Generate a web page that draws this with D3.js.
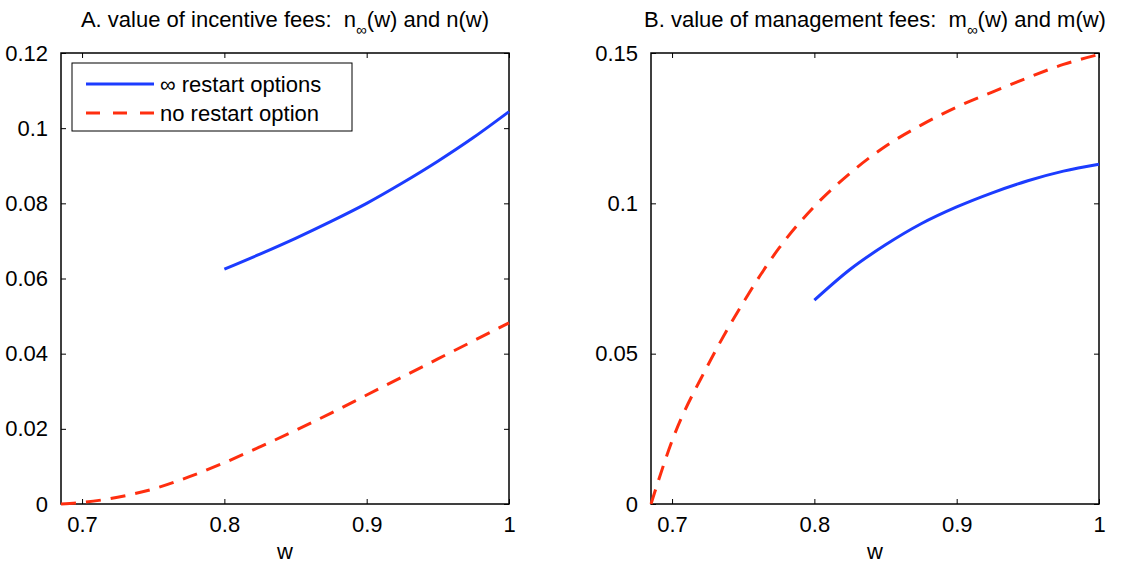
<!DOCTYPE html>
<html>
<head>
<meta charset="utf-8">
<script src="https://cdn.jsdelivr.net/npm/d3@7"></script>
<style>
  body { margin: 0; background: #fff; }
  text { font-family: "Liberation Sans", Arial, sans-serif; fill: #000; }
</style>
</head>
<body>
<div id="chart"></div>
<script>
// data
var wMin = 0.6852;
var xTicks = [0.7, 0.8, 0.9, 1];

var wRed = [0.6852, 0.7, 0.725, 0.75, 0.775, 0.8, 0.825, 0.85, 0.875, 0.9, 0.925, 0.95, 0.975, 1.0];
var wBlue = [0.8, 0.825, 0.85, 0.875, 0.9, 0.925, 0.95, 0.975, 1.0];

// panel A: incentive fees
var nNoRestart = [0, 0.0004, 0.0018, 0.0040, 0.0072, 0.0110, 0.0152, 0.0196, 0.0242, 0.0290, 0.0338, 0.0386, 0.0434, 0.0482];
var nInf = [0.0625, 0.0665, 0.0707, 0.0752, 0.0800, 0.0854, 0.0912, 0.0975, 0.1044];
var yTicksA = [0, 0.02, 0.04, 0.06, 0.08, 0.1, 0.12];

// panel B: management fees
var mNoRestart = [0, 0.021, 0.046, 0.067, 0.085, 0.099, 0.110, 0.119, 0.126, 0.132, 0.137, 0.1418, 0.1462, 0.1495];
var mInf = [0.0678, 0.0780, 0.0862, 0.0932, 0.0988, 0.1035, 0.1075, 0.1107, 0.1130];
var yTicksB = [0, 0.05, 0.1, 0.15];

var legendLabels = ["\u221e restart options", "no restart option"];

var blue = "#1c3cff", red = "#ff2e0f";
var fs = "22px";

var svg = d3.select("#chart").append("svg")
  .attr("width", 1124)
  .attr("height", 567);

function panel(left, yMax, yTicks, redVals, blueVals, titleParts, showLegend) {
  var top = 53, width = 448, height = 451;
  var g = svg.append("g").attr("transform", "translate(" + left + "," + top + ")");
  var x = d3.scaleLinear().domain([wMin, 1]).range([0, width]);
  var y = d3.scaleLinear().domain([0, yMax]).range([height, 0]);

  // ticks on all four sides, pointing in
  g.append("g").attr("transform", "translate(0," + height + ")")
    .call(d3.axisBottom(x).tickValues(xTicks).tickSizeInner(-5).tickSizeOuter(0).tickPadding(12)
      .tickFormat(function(d) { return d === 1 ? "1" : d3.format(".1f")(d); }));
  g.append("g")
    .call(d3.axisTop(x).tickValues(xTicks).tickSizeInner(-5).tickSizeOuter(0).tickFormat(""));
  g.append("g")
    .call(d3.axisLeft(y).tickValues(yTicks).tickSizeInner(-5).tickSizeOuter(0).tickPadding(13)
      .tickFormat(function(d) { return d === 0 ? "0" : String(d); }));
  g.append("g").attr("transform", "translate(" + width + ",0)")
    .call(d3.axisRight(y).tickValues(yTicks).tickSizeInner(-5).tickSizeOuter(0).tickFormat(""));
  g.selectAll(".domain").remove();
  g.selectAll(".tick line").attr("stroke", "#000").attr("stroke-width", 1);
  g.selectAll(".tick text").style("font-size", fs);

  g.append("rect")
    .attr("width", width).attr("height", height)
    .attr("fill", "none").attr("stroke", "#000").attr("stroke-width", 1.5);

  var line = d3.line().curve(d3.curveMonotoneX)
    .x(function(d) { return x(d[0]); })
    .y(function(d) { return y(d[1]); });

  g.append("path")
    .datum(d3.zip(wRed, redVals))
    .attr("d", line)
    .attr("fill", "none").attr("stroke", red).attr("stroke-width", 3)
    .attr("stroke-dasharray", "15,10");

  g.append("path")
    .datum(d3.zip(wBlue, blueVals))
    .attr("d", line)
    .attr("fill", "none").attr("stroke", blue).attr("stroke-width", 3);

  // x label
  g.append("text")
    .attr("x", width / 2).attr("y", height + 55)
    .attr("text-anchor", "middle")
    .style("font-size", fs)
    .text("w");

  // title with subscript infinity
  var t = g.append("text")
    .attr("x", width / 2).attr("y", -26)
    .attr("text-anchor", "middle")
    .attr("xml:space", "preserve")
    .style("white-space", "pre")
    .style("font-size", fs);
  t.append("tspan").text(titleParts[0]);
  t.append("tspan").attr("dy", 8).style("font-size", "15px").text("\u221e");
  t.append("tspan").attr("dy", -8).text(titleParts[1]);

  if (showLegend) {
    var lg = g.append("g").attr("transform", "translate(11,10)");
    lg.append("rect")
      .attr("width", 280).attr("height", 68)
      .attr("fill", "#fff").attr("stroke", "#000").attr("stroke-width", 1);
    var rows = lg.selectAll(".row").data(legendLabels).enter().append("g")
      .attr("transform", function(d, i) { return "translate(0," + (21 + i * 29) + ")"; });
    rows.append("line")
      .attr("x1", 14).attr("x2", 82)
      .attr("stroke", function(d, i) { return i === 0 ? blue : red; })
      .attr("stroke-width", 3)
      .attr("stroke-dasharray", function(d, i) { return i === 0 ? null : "14,13"; });
    rows.append("text")
      .attr("x", 88).attr("dy", "0.35em")
      .style("font-size", fs)
      .text(function(d) { return d; });
  }
}

panel(61, 0.12, yTicksA, nNoRestart, nInf, ["A. value of incentive fees:  n", "(w) and n(w)"], true);
panel(651, 0.15, yTicksB, mNoRestart, mInf, ["B. value of management fees:  m", "(w) and m(w)"], false);
</script>
</body>
</html>
